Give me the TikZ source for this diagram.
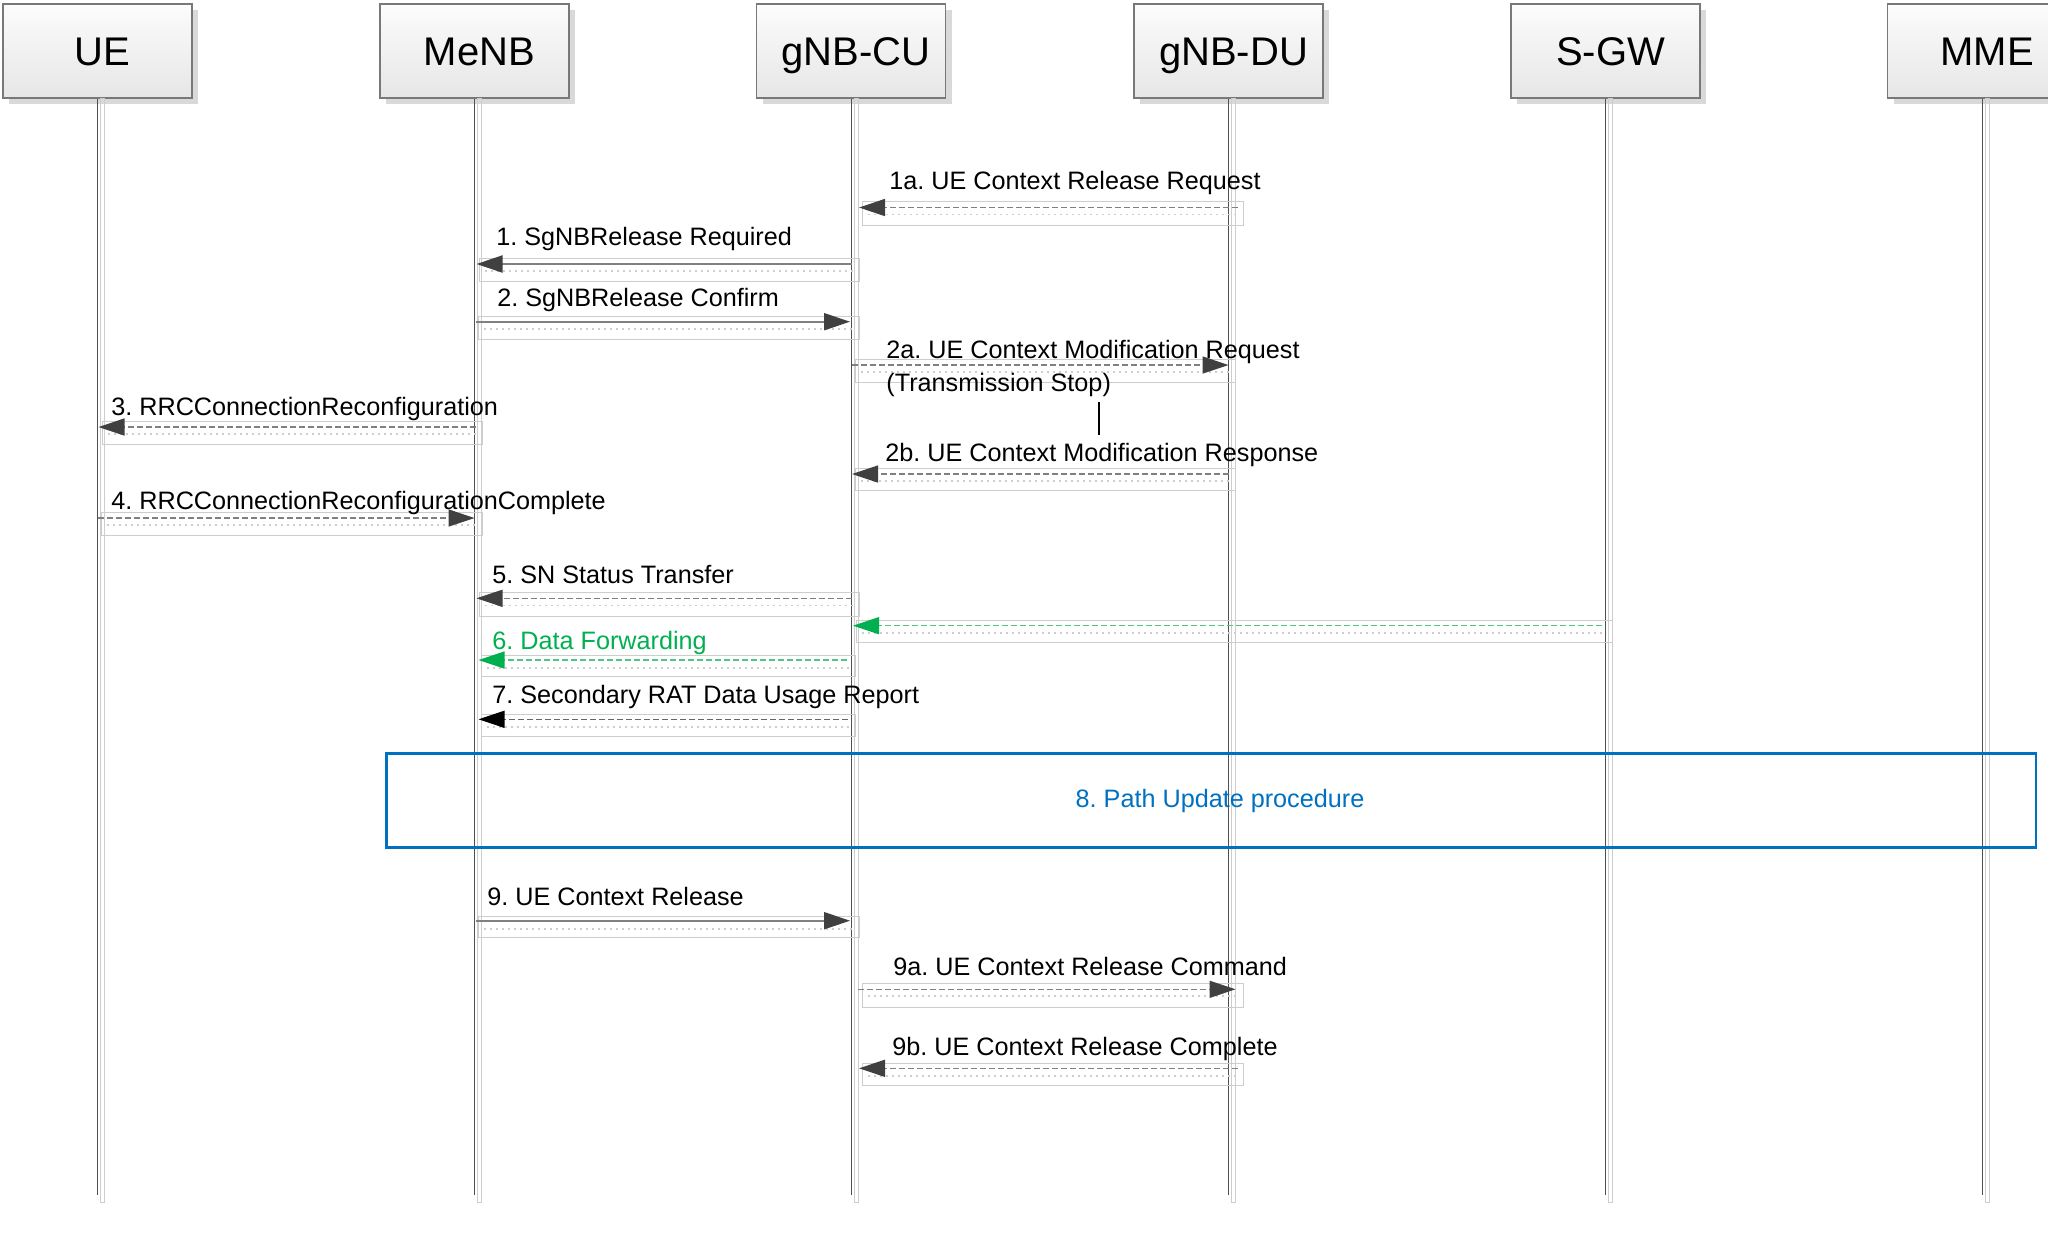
\documentclass[tikz,border=0pt]{standalone}
\usepackage{fontspec}
\setmainfont{Liberation Sans}
\usetikzlibrary{arrows.meta,shadows,calc}
\definecolor{hdrtop}{RGB}{252,252,252}
\definecolor{hdrbot}{RGB}{230,230,230}
\definecolor{hdrline}{RGB}{120,120,120}
\definecolor{lifec}{RGB}{80,80,80}
\definecolor{headc}{RGB}{64,64,64}
\definecolor{msgc}{RGB}{128,128,128}
\definecolor{shc}{RGB}{205,205,205}
\definecolor{grn}{RGB}{0,176,80}
\definecolor{grnl}{RGB}{80,200,130}
\definecolor{blu}{RGB}{0,112,192}
\tikzset{
  hdr/.style={draw=hdrline, line width=0.6pt, top color=hdrtop, bottom color=hdrbot,
    minimum width=94.5pt, minimum height=47pt, inner sep=0pt,
    drop shadow={shadow xshift=3pt, shadow yshift=-3pt, fill=black!15, opacity=1}},
  hdrtxt/.style={font=\fontsize{20}{24}\selectfont, inner sep=0pt, anchor=base},
  life/.style={draw=lifec, line width=0.5pt},
  lifesh/.style={draw=shc, line width=0.4pt},
  msgsh/.style={draw=shc, line width=0.5pt},
  msgdots/.style={draw=shc, line width=0.6pt, dash pattern=on 1pt off 2pt},
  tipd/.style={-{Triangle[length=13pt,width=8.5pt,fill=headc,color=headc]}},
  solidmsg/.style={tipd, draw=msgc, line width=1pt},
  dashmsg/.style={tipd, draw=msgc, line width=0.7pt, dash pattern=on 3pt off 1.5pt},
  greenmsg/.style={-{Triangle[length=13pt,width=8.5pt,fill=grn,color=grn]}, draw=grnl, line width=0.7pt, dash pattern=on 3pt off 1.5pt},
  blackmsg/.style={-{Triangle[length=13pt,width=8.5pt,fill=black,color=black]}, draw=msgc!80!black, line width=0.7pt, dash pattern=on 3pt off 1.5pt},
  lbl/.style={anchor=base west, inner sep=0pt, font=\fontsize{12.6}{15}\selectfont\frenchspacing},
}
\begin{document}
\begin{tikzpicture}[x=0.5pt,y=-0.5pt]
\useasboundingbox (0,0) rectangle (2048,1239);
\clip (0,0) rectangle (2048,1239);

% bottom of lifelines and header text baseline
\coordinate (bot) at (0,1195);
\coordinate (hb) at (0,65);

% header boxes
\node[hdr] (ue)   at (97.5,51)  {};
\node[hdr] (menb) at (474.5,51) {};
\node[hdr] (cu)   at (851,51)   {};
\node[hdr] (du)   at (1228.5,51) {};
\node[hdr] (sgw)  at (1605.5,51) {};
\node[hdr] (mme)  at (1982,51)  {};
\node[hdrtxt] (ue-t)   at ($(ue.center |- hb)+(5,0)$)   {UE};
\node[hdrtxt] (menb-t) at ($(menb.center |- hb)+(5,0)$) {MeNB};
\node[hdrtxt] (cu-t)   at ($(cu.center |- hb)+(5,0)$)   {gNB-CU};
\node[hdrtxt] (du-t)   at ($(du.center |- hb)+(5,0)$)   {gNB-DU};
\node[hdrtxt] (sgw-t)  at ($(sgw.center |- hb)+(5,0)$)  {S-GW};
\node[hdrtxt] (mme-t)  at ($(mme.center |- hb)+(5,0)$)  {MME};

% lifelines
\foreach \n in {ue,menb,cu,du,sgw,mme}{
  \draw[lifesh] ($(\n.south)+(3,0)$) rectangle ($(\n.south |- bot)+(7,7)$);
  \draw[life] (\n.south) -- (\n.south |- bot);
}

% message rows
\coordinate (r1a) at (0,207.5);
\coordinate (r1)  at (0,264);
\coordinate (r2)  at (0,321.7);
\coordinate (r2a) at (0,365);
\coordinate (r2b) at (0,474);
\coordinate (r3)  at (0,427);
\coordinate (r4)  at (0,518);
\coordinate (r5)  at (0,598.3);
\coordinate (rg)  at (0,625.7);
\coordinate (r6)  at (0,660);
\coordinate (r7)  at (0,719.3);
\coordinate (r9)  at (0,920.7);
\coordinate (r9a) at (0,989.3);
\coordinate (r9b) at (0,1068.3);

% message shadow frames
\foreach \xa/\xb/\ya/\yb in {862/1243/201.5/225, 479/859/258/281, 478/859/316/339,
   855/1235/359/382, 855/1235/468/490, 102/482/421/444, 101/482/512/535,
   479/859/592.7/616, 856/1612/620/642, 481/855/655/676, 481/855/714/736,
   478/859/916/937, 862/1243/983/1007, 862/1243/1063/1085}{
  \draw[msgsh] (\xa,\ya) rectangle (\xb,\yb);
  \draw[msgdots] (\xa+6,\ya+13) -- (\xb-6,\ya+13);
}

% messages
\draw[dashmsg]  ($(du.south |- r1a)+(9,0)$) -- ($(cu.south |- r1a)+(8,0)$);
\draw[solidmsg] ($(cu.south |- r1)+(1,0)$) -- ($(menb.south |- r1)+(2,0)$);
\draw[solidmsg] ($(menb.south |- r2)+(1,0)$) -- ($(cu.south |- r2)+(-1,0)$);
\draw[dashmsg]  ($(cu.south |- r2a)+(1,0)$) -- (du.south |- r2a);
\draw[dashmsg]  (du.south |- r2b) -- ($(cu.south |- r2b)+(1,0)$);
\draw[dashmsg]  ($(menb.south |- r3)+(1,0)$) -- ($(ue.south |- r3)+(1,0)$);
\draw[dashmsg]  (ue.south |- r4) -- (menb.south |- r4);
\draw[dashmsg]  ($(cu.south |- r5)+(1,0)$) -- ($(menb.south |- r5)+(2,0)$);
\draw[greenmsg] ($(sgw.south |- rg)+(-4,0)$) -- ($(cu.south |- rg)+(2,0)$);
\draw[greenmsg] ($(cu.south |- r6)+(-4,0)$) -- ($(menb.south |- r6)+(4,0)$);
\draw[blackmsg] ($(cu.south |- r7)+(-3,0)$) -- ($(menb.south |- r7)+(4,0)$);
\draw[solidmsg] ($(menb.south |- r9)+(1,0)$) -- ($(cu.south |- r9)+(-1,0)$);
\draw[dashmsg]  ($(cu.south |- r9a)+(7,0)$) -- ($(du.south |- r9a)+(7,0)$);
\draw[dashmsg]  ($(du.south |- r9b)+(9,0)$) -- ($(cu.south |- r9b)+(8,0)$);

% labels
\node[lbl] (l1a) at (889,189)   {1a. UE Context Release Request};
\node[lbl] (l1)  at (496,245)   {1. SgNBRelease Required};
\node[lbl] (l2)  at (497,306.7) {2. SgNBRelease Confirm};
\node[lbl] (l2a) at (886,358)   {2a. UE Context Modification Request};
\node[lbl] (l2a2) at (886,391.7) {(Transmission Stop)};
\node[lbl] (l2b) at (885,461.7) {2b. UE Context Modification Response};
\node[lbl] (l3)  at (111,415)   {3. RRCConnectionReconfiguration};
\node[lbl] (l4)  at (111,509)   {4. RRCConnectionReconfigurationComplete};
\node[lbl] (l5)  at (492,583.3) {5. SN Status Transfer};
\node[lbl, text=grn] (l6) at (492,649.3) {6. Data Forwarding};
\node[lbl] (l7)  at (492,703.3) {7. Secondary RAT Data Usage Report};
\node[lbl] (l9)  at (487,905)   {9. UE Context Release};
\node[lbl] (l9a) at (893,975)   {9a. UE Context Release Command};
\node[lbl] (l9b) at (892,1055)  {9b. UE Context Release Complete};

% small vertical bar
\draw[black, line width=1pt] (1099,402) -- (1099,435);

% path update procedure box
\draw[blu, line width=1.2pt] (386.6,753.6) rectangle (2036,847.6);
\node[inner sep=0pt, text=blu, font=\fontsize{12.6}{15}\selectfont\frenchspacing] (l8) at (1220,800.6) {8. Path Update procedure};
\end{tikzpicture}
\end{document}
